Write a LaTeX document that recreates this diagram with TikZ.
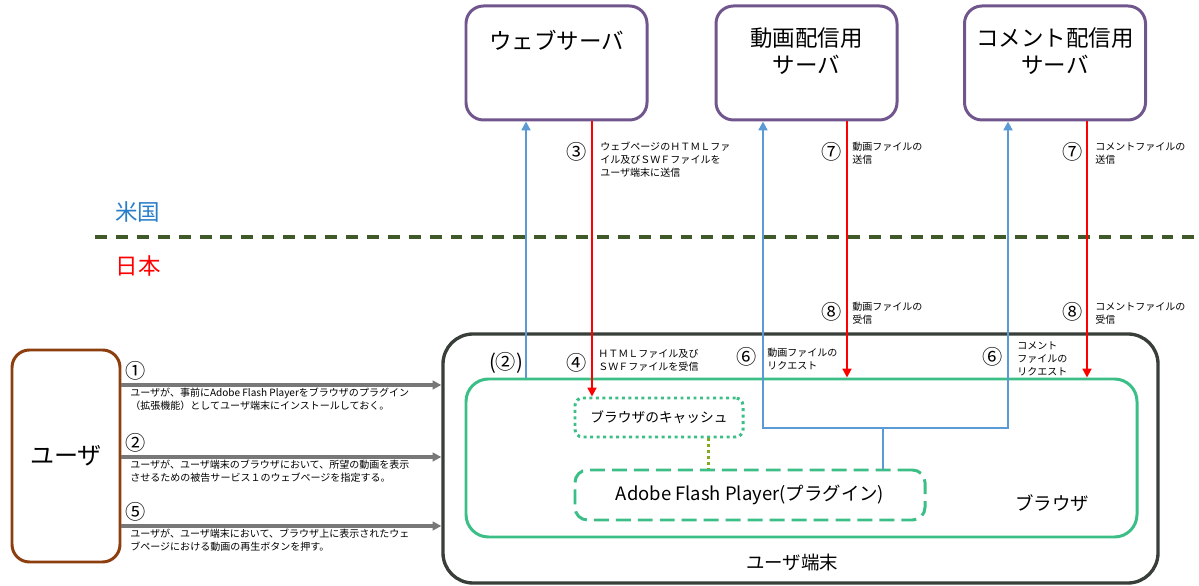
\documentclass[tikz,border=0pt]{standalone}
\usepackage{fontspec}
\setmainfont{Noto Sans CJK JP}
\usepackage{xcolor}
\usetikzlibrary{arrows.meta,positioning}

\definecolor{srvpurple}{RGB}{112,86,140}
\definecolor{userbrown}{RGB}{140,62,14}
\definecolor{termgray}{RGB}{56,62,56}
\definecolor{brgreen}{RGB}{60,190,135}
\definecolor{reqblue}{RGB}{91,155,213}
\definecolor{opgray}{RGB}{120,120,120}
\definecolor{borderolive}{RGB}{63,90,40}
\definecolor{linkolive}{RGB}{130,170,30}
\definecolor{usblue}{RGB}{40,125,200}

\begin{document}
\begin{tikzpicture}[
    >={Triangle[length=5pt,width=5pt]},
    server/.style={draw=srvpurple, line width=1.7pt, rounded corners=0.35cm, minimum width=3.62cm, minimum height=2.28cm},
    srvtext/.style={font=\fontsize{12.8}{15.4}\selectfont, align=center, inner sep=0pt},
    actor/.style={draw=userbrown, line width=1.7pt, rounded corners=0.35cm, minimum width=2.16cm, minimum height=4.24cm, font=\fontsize{13.7}{16}\selectfont},
    terminal/.style={draw=termgray, line width=1.9pt, rounded corners=0.6cm, minimum width=14.3cm, minimum height=4.98cm},
    browser/.style={draw=brgreen, line width=1.7pt, rounded corners=0.45cm, minimum width=13.42cm, minimum height=3.16cm},
    cachebox/.style={draw=brgreen, line width=1.7pt, dash pattern=on 1.7pt off 2pt, rounded corners=0.15cm, minimum width=3.36cm, minimum height=0.78cm, font=\fontsize{7.8}{9}\selectfont},
    plugin/.style={draw=brgreen, line width=1.7pt, dash pattern=on 8.5pt off 4pt, rounded corners=0.25cm, minimum width=7cm, minimum height=1cm, font=\fontsize{10.5}{12}\selectfont},
    boxlabel/.style={font=\fontsize{10.5}{12}\selectfont},
    req/.style={->, draw=reqblue, line width=1.4pt},
    resp/.style={->, draw=red, line width=1.1pt},
    op/.style={->, draw=opgray, line width=1.8pt},
    num/.style={font=\fontsize{11.5}{13}\selectfont, inner sep=0pt},
    note/.style={font=\fontsize{5.7}{7.4}\selectfont, align=left, anchor=west, inner sep=0pt},
    region/.style={font=\fontsize{12.8}{15}\selectfont}
]
\useasboundingbox (0,0) rectangle (23.98,11.72);

% === Servers (US side) ===
\node[server] (web) at (11.13, 10.46) {};
\node[server] (video) at (16.13, 10.46) {};
\node[server] (comment) at (21.10, 10.46) {};
\node[srvtext, below=0.5cm of web.north] (webtxt) {ウェブサーバ};
\node[srvtext, below=0.46cm of video.north] (videotxt) {動画配信用\\サーバ};
\node[srvtext, below=0.46cm of comment.north] (commenttxt) {コメント配信用\\サーバ};

% Border between US and Japan
\draw[borderolive, line width=2pt, dash pattern=on 6.8pt off 5.1pt] (1.90, 6.98) -- (23.98, 6.98);
\node[region, text=usblue] (us) at (2.75, 7.48) {米国};
\node[region, text=red] (jp) at (2.76, 6.40) {日本};

% === User and terminal ===
\node[actor] (user) at (1.32, 2.60) {ユーザ};
\node[terminal] (term) at (16.01, 2.55) {};
\node[browser] (browser) at (16.03, 2.56) {};
\node[cachebox] (cache) at (13.18, 3.37) {ブラウザのキャッシュ};
\node[plugin] (flash) at (15.00, 1.82) {Adobe Flash Player(プラグイン)};
\node[boxlabel] (brlabel) at (21.04, 1.66) {ブラウザ};
\node[boxlabel] (termlabel) at (15.84, 0.48) {ユーザ端末};

% cache <-> plugin
\draw[linkolive, line width=1.7pt, dash pattern=on 1.7pt off 1.7pt] (cache.south -| 14.16,0) -- (flash.north -| 14.16,0);

% User operations
\foreach \i/\y/\n/\txt in {
    1/4.02/①/{ユーザが、事前にAdobe Flash Playerをブラウザのプラグイン\\（拡張機能）としてユーザ端末にインストールしておく。},
    2/2.58/②/{ユーザが、ユーザ端末のブラウザにおいて、所望の動画を表示\\させるための被告サービス１のウェブページを指定する。},
    5/1.20/⑤/{ユーザが、ユーザ端末において、ブラウザ上に表示されたウェ\\ブページにおける動画の再生ボタンを押す。}} {
    \draw[op] (user.east |- 0,\y) -- (term.west |- 0,\y);
    \node[num] (op\i) at (2.72, \y+0.28) {\n};
    \node[note] (op\i txt) at (2.60, \y-0.29) {\txt};
}

% === Requests (blue) ===
\draw[req] (browser.north -| 10.52,0) -- (web.south -| 10.52,0);
\coordinate (fork) at (17.66, 3.16);
\draw[reqblue, line width=1.4pt] (flash.north -| fork) -- (fork);
\draw[req] (fork) -| (video.south -| 15.26,0);
\draw[req] (fork) -| (comment.south -| 20.16,0);

% === Responses (red) ===
\draw[resp] (web.south -| 11.84,0) -- (cache.north -| 11.84,0);
\draw[resp] (video.south -| 16.94,0) -- (browser.north -| 16.94,0);
\draw[resp] (comment.south -| 21.74,0) -- (browser.north -| 21.74,0);

% Step labels
\node[num] (s3) at (11.54, 8.68) {③};
\node[note] (s3txt) at (12.00, 8.53) {ウェブページのＨＴＭＬファ\\イル及びＳＷＦファイルを\\ユーザ端末に送信};
\node[num] (s7a) at (16.64, 8.68) {⑦};
\node[note] (s7atxt) at (17.04, 8.65) {動画ファイルの\\送信};
\node[num] (s7b) at (21.46, 8.68) {⑦};
\node[note] (s7btxt) at (21.90, 8.65) {コメントファイルの\\送信};
\node[num] (s8a) at (16.64, 5.48) {⑧};
\node[note] (s8atxt) at (17.04, 5.46) {動画ファイルの\\受信};
\node[num] (s8b) at (21.46, 5.48) {⑧};
\node[note] (s8btxt) at (21.90, 5.46) {コメントファイルの\\受信};
\node[num] (s2) at (10.12, 4.46) {(②)};
\node[num] (s4) at (11.54, 4.46) {④};
\node[note] (s4txt) at (11.96, 4.51) {ＨＴＭＬファイル及び\\ＳＷＦファイルを受信};
\node[num] (s6a) at (14.94, 4.58) {⑥};
\node[note] (s6atxt) at (15.34, 4.54) {動画ファイルの\\リクエスト};
\node[num] (s6b) at (19.86, 4.58) {⑥};
\node[note] (s6btxt) at (20.34, 4.54) {コメント\\ファイルの\\リクエスト};

\end{tikzpicture}
\end{document}
